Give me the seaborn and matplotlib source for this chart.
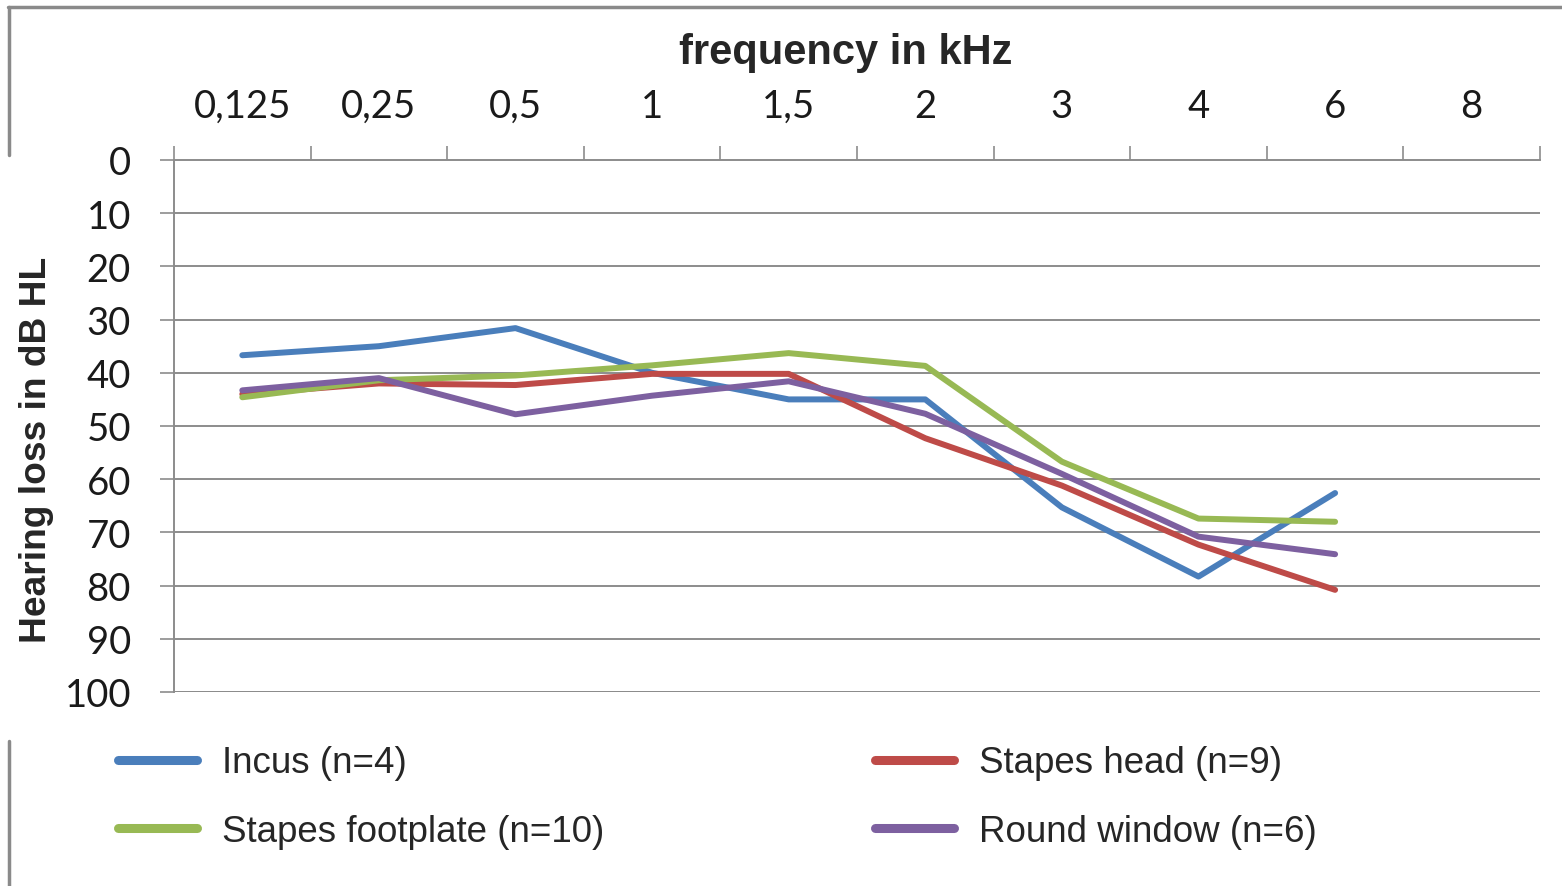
import matplotlib
matplotlib.use("Agg")
import matplotlib.pyplot as plt
from matplotlib.lines import Line2D
from matplotlib.ticker import FixedLocator
import seaborn as sns
import pandas as pd

# ---- data ----
freq_labels = ["0,125", "0,25", "0,5", "1", "1,5", "2", "3", "4", "6", "8"]
incus = [36.7, 35.0, 31.6, 40.0, 45.0, 45.0, 65.3, 78.3, 62.6]
stapes_head = [44.0, 42.0, 42.3, 40.2, 40.2, 52.3, 61.2, 72.3, 80.8]
stapes_footplate = [44.6, 41.4, 40.5, 38.6, 36.3, 38.7, 56.7, 67.4, 68.0]
round_window = [43.3, 41.0, 47.8, 44.3, 41.6, 47.7, 59.0, 70.8, 74.1]
series_names = ["Incus (n=4)", "Stapes head (n=9)", "Stapes footplate (n=10)", "Round window (n=6)"]
series_values = [incus, stapes_head, stapes_footplate, round_window]
colors = ["#4A7EBB", "#BE4B48", "#98B954", "#7D60A0"]
y_ticks = list(range(0, 101, 10))

rows = []
for name, vals in zip(series_names, series_values):
    for i, v in enumerate(vals):
        rows.append({"pos": i, "freq": freq_labels[i], "loss": v, "series": name})
df = pd.DataFrame(rows)

sns.set_theme(style="white")
plt.rcParams["font.family"] = ["Lato", "DejaVu Sans"]

W, H = 1562, 887
fig = plt.figure(figsize=(W / 100, H / 100), dpi=100)
ax = fig.add_axes([174 / W, 1 - 693 / H, (1540 - 174) / W, (693 - 161) / H])

sns.lineplot(data=df, x="pos", y="loss", hue="series", hue_order=series_names,
             palette=colors, linewidth=4.3, ax=ax, legend=False, sort=False)

grid_c = "#8c8c8c"
ax.set_ylim(100, 0)
ax.set_xlim(-0.5, len(freq_labels) - 0.5)
ax.set_yticks(y_ticks)
ax.set_yticklabels([str(t) for t in y_ticks], fontsize=27.5, color="#1a1a1a")
for t in y_ticks[1:]:
    ax.axhline(t, color=grid_c, lw=1.4, zorder=0)

ax.xaxis.tick_top()
ax.set_xticks(range(len(freq_labels)))
ax.set_xticklabels(freq_labels, fontsize=27.5, color="#1a1a1a")
ax.xaxis.set_minor_locator(FixedLocator([i - 0.5 for i in range(len(freq_labels) + 1)]))
ax.tick_params(axis="x", which="major", length=0, pad=26)
ax.tick_params(axis="x", which="minor", top=True, bottom=False, length=10, width=1.2,
               color=grid_c, direction="out")
ax.tick_params(axis="y", which="major", left=True, length=10, width=1.2, color=grid_c,
               direction="out", pad=21)

for s in ["right", "bottom"]:
    ax.spines[s].set_visible(False)
for s in ["top", "left"]:
    ax.spines[s].set_color(grid_c)
    ax.spines[s].set_linewidth(1.4)
ax.axhline(100, color=grid_c, lw=1.4, zorder=0)

ax.set_xlabel("")
ax.set_ylabel("")
fig.text(846 / W, 1 - 53 / H, "frequency in kHz", ha="center", va="center",
         fontsize=30, fontweight="bold", family=["Liberation Sans", "DejaVu Sans"])
fig.text(37 / W, 1 - 450 / H, "Hearing loss in dB HL", ha="center", va="center",
         rotation=90, fontsize=26.7, fontweight="bold", family=["Liberation Sans", "DejaVu Sans"])

# legend
order = [0, 2, 1, 3]
handles = [Line2D([], [], color=colors[i], lw=6.5, solid_capstyle="round") for i in order]
labels = [series_names[i] for i in order]
fig.legend(handles, labels, ncol=2, loc="center left", bbox_to_anchor=(118 / W, 1 - 798 / H),
           frameon=False, prop={"family": ["Liberation Sans"], "size": 26.5},
           borderpad=0, borderaxespad=0,
           handlelength=2.15, handletextpad=0.68, columnspacing=7.35, labelspacing=0.9)

# outer frame fragments
fc = "#8a8a8a"
fig.add_artist(Line2D([8 / W, 1.0], [1 - 8 / H, 1 - 8 / H], transform=fig.transFigure, color=fc, lw=2.5))
fig.add_artist(Line2D([9 / W, 9 / W], [1 - 8 / H, 1 - 156 / H], transform=fig.transFigure, color=fc, lw=2.5))
fig.add_artist(Line2D([9 / W, 9 / W], [1 - 742 / H, 0.0], transform=fig.transFigure, color=fc, lw=2.5))

fig.savefig("out.png", dpi=100)
